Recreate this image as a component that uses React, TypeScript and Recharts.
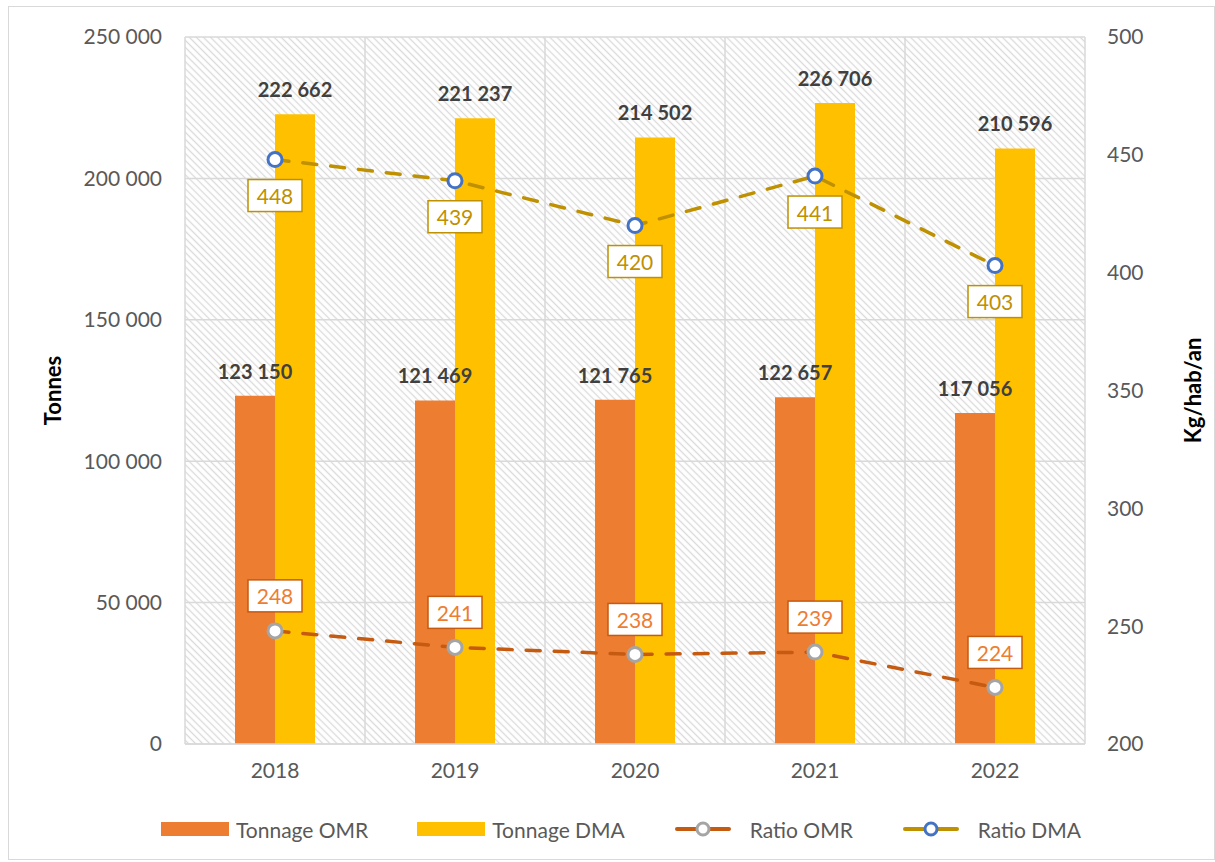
import { ComposedChart, Bar, Line, XAxis, YAxis, CartesianGrid, Legend, LabelList } from "recharts";

const years = ["2018", "2019", "2020", "2021", "2022"];
const tonnageOMR = [123150, 121469, 121765, 122657, 117056];
const tonnageDMA = [222662, 221237, 214502, 226706, 210596];
const ratioOMR = [248, 241, 238, 239, 224];
const ratioDMA = [448, 439, 420, 441, 403];
const leftTicks = [0, 50000, 100000, 150000, 200000, 250000];
const rightTicks = [200, 250, 300, 350, 400, 450, 500];

const data = years.map((year, i) => ({
  year,
  omr: tonnageOMR[i],
  dma: tonnageDMA[i],
  rOmr: ratioOMR[i],
  rDma: ratioDMA[i],
}));

const ORANGE = "#ED7D31";
const YELLOW = "#FFC000";
const DARK_ORANGE = "#C55A11";
const GOLD = "#BF9000";
const BLUE = "#4472C4";
const GREY = "#A5A5A5";
const GRID = "#D9D9D9";
const TEXT = "#595959";

const fmt = (n: number) => String(n).replace(/\B(?=(\d{3})+(?!\d))/g, " ");

// white box with border, placed below (dy > 0) or above (dy < 0) the point
function boxLabel(color: string, textColor: string, dy: number) {
  return (props: any) => {
    const { x, y, value } = props;
    const cy = y + dy;
    return (
      <g>
        <rect x={x - 27} y={cy - 16} width={54} height={32} fill="#fff" stroke={color} strokeWidth={1.5} />
        <text x={x} y={cy} textAnchor="middle" dominantBaseline="central" fontSize={21} fill={textColor}>
          {value}
        </text>
      </g>
    );
  };
}

const barLabel = (props: any) => {
  const { x, y, width, value } = props;
  return (
    <text x={x + width / 2} y={y - 17} textAnchor="middle" fontSize={20} fontWeight="bold" fill="#404040">
      {fmt(value)}
    </text>
  );
};

const legendItems = [
  { name: "Tonnage OMR", kind: "bar", color: ORANGE },
  { name: "Tonnage DMA", kind: "bar", color: YELLOW },
  { name: "Ratio OMR", kind: "line", color: DARK_ORANGE, dot: GREY },
  { name: "Ratio DMA", kind: "line", color: GOLD, dot: BLUE },
];

function LegendContent() {
  return (
    <div style={{ display: "flex", justifyContent: "center", gap: 49, height: 40, alignItems: "center", paddingLeft: 27 }}>
      {legendItems.map((it) => (
        <div key={it.name} style={{ display: "flex", alignItems: "center", gap: it.kind === "bar" ? 7 : 18 }}>
          {it.kind === "bar" ? (
            <div style={{ width: 68, height: 14, background: it.color }} />
          ) : (
            <svg width={58} height={16}>
              <line x1={3} y1={8} x2={55} y2={8} stroke={it.color} strokeWidth={4} strokeLinecap="round" />
              <circle cx={29} cy={8} r={6} fill="#fff" stroke={it.dot} strokeWidth={3} />
            </svg>
          )}
          <span style={{ fontSize: 21, color: TEXT }}>{it.name}</span>
        </div>
      ))}
    </div>
  );
}

export default function App() {
  return (
    <div style={{ position: "absolute", left: 0, top: 0, width: 1215, height: 862, fontFamily: "Lato, sans-serif", background: "#fff" }}>
      <div style={{ position: "absolute", left: 8, top: 6, width: 1205, height: 852, border: `1.5px solid ${GRID}` }} />
      <ComposedChart
        width={1215}
        height={862}
        data={data}
        margin={{ top: 37, right: 0, left: 0, bottom: 0 }}
        barGap={0}
        barSize={40}
      >
        <defs>
          <pattern id="hatch" patternUnits="userSpaceOnUse" width={5} height={5} patternTransform="rotate(45)">
            <rect width={5} height={5} fill="#fff" />
            <line x1={0} y1={2.5} x2={5} y2={2.5} stroke="#DADADA" strokeWidth={1.3} />
          </pattern>
        </defs>
        <CartesianGrid
          yAxisId="left"
          stroke={GRID}
          strokeWidth={1.5}
          fill="url(#hatch)"
          verticalCoordinatesGenerator={({ offset }: any) =>
            Array.from({ length: years.length + 1 }, (_, i) => offset.left + (i * offset.width) / years.length)
          }
        />
        <XAxis
          dataKey="year"
          height={78}
          tickLine={false}
          axisLine={{ stroke: GRID, strokeWidth: 1.5 }}
          tick={{ fill: TEXT, fontSize: 21 }}
          tickMargin={13}
        />
        <YAxis
          yAxisId="left"
          width={185}
          domain={[0, 250000]}
          ticks={leftTicks}
          tickFormatter={fmt}
          axisLine={false}
          tickLine={false}
          tickMargin={17}
          tick={{ fill: TEXT, fontSize: 21 }}
          label={(p: any) => (
            <text
              x={52}
              y={p.viewBox.y + p.viewBox.height / 2}
              transform={`rotate(-90 52 ${p.viewBox.y + p.viewBox.height / 2})`}
              textAnchor="middle"
              dominantBaseline="central"
              fontSize={22}
              fontWeight="bold"
              fill="#000"
            >
              Tonnes
            </text>
          )}
        />
        <YAxis
          yAxisId="right"
          orientation="right"
          width={130}
          domain={[200, 500]}
          ticks={rightTicks}
          axisLine={false}
          tickLine={false}
          tickMargin={16}
          tick={{ fill: TEXT, fontSize: 21 }}
          label={(p: any) => (
            <text
              x={p.viewBox.x + 107}
              y={p.viewBox.y + p.viewBox.height / 2}
              transform={`rotate(-90 ${p.viewBox.x + 107} ${p.viewBox.y + p.viewBox.height / 2})`}
              textAnchor="middle"
              dominantBaseline="central"
              fontSize={22}
              fontWeight="bold"
              fill="#000"
            >
              Kg/hab/an
            </text>
          )}
        />
        <Legend
          verticalAlign="bottom"
          content={() => <LegendContent />}
          wrapperStyle={{ left: 0, width: 1215, bottom: 13 }}
        />
        <Bar yAxisId="left" dataKey="omr" name="Tonnage OMR" fill={ORANGE} isAnimationActive={false}>
          <LabelList dataKey="omr" content={barLabel} />
        </Bar>
        <Bar yAxisId="left" dataKey="dma" name="Tonnage DMA" fill={YELLOW} isAnimationActive={false}>
          <LabelList dataKey="dma" content={barLabel} />
        </Bar>
        <Line
          yAxisId="right"
          dataKey="rOmr"
          name="Ratio OMR"
          stroke={DARK_ORANGE}
          strokeWidth={3.5}
          strokeDasharray="14 14"
          strokeLinecap="round"
          dot={{ r: 7, fill: "#fff", stroke: GREY, strokeWidth: 3, strokeDasharray: "0" }}
          isAnimationActive={false}
        >
          <LabelList dataKey="rOmr" content={boxLabel(DARK_ORANGE, ORANGE, -35)} />
        </Line>
        <Line
          yAxisId="right"
          dataKey="rDma"
          name="Ratio DMA"
          stroke={GOLD}
          strokeWidth={3.5}
          strokeDasharray="14 14"
          strokeLinecap="round"
          dot={{ r: 7, fill: "#fff", stroke: BLUE, strokeWidth: 3, strokeDasharray: "0" }}
          isAnimationActive={false}
        >
          <LabelList dataKey="rDma" content={boxLabel(GOLD, GOLD, 36)} />
        </Line>
      </ComposedChart>
    </div>
  );
}
